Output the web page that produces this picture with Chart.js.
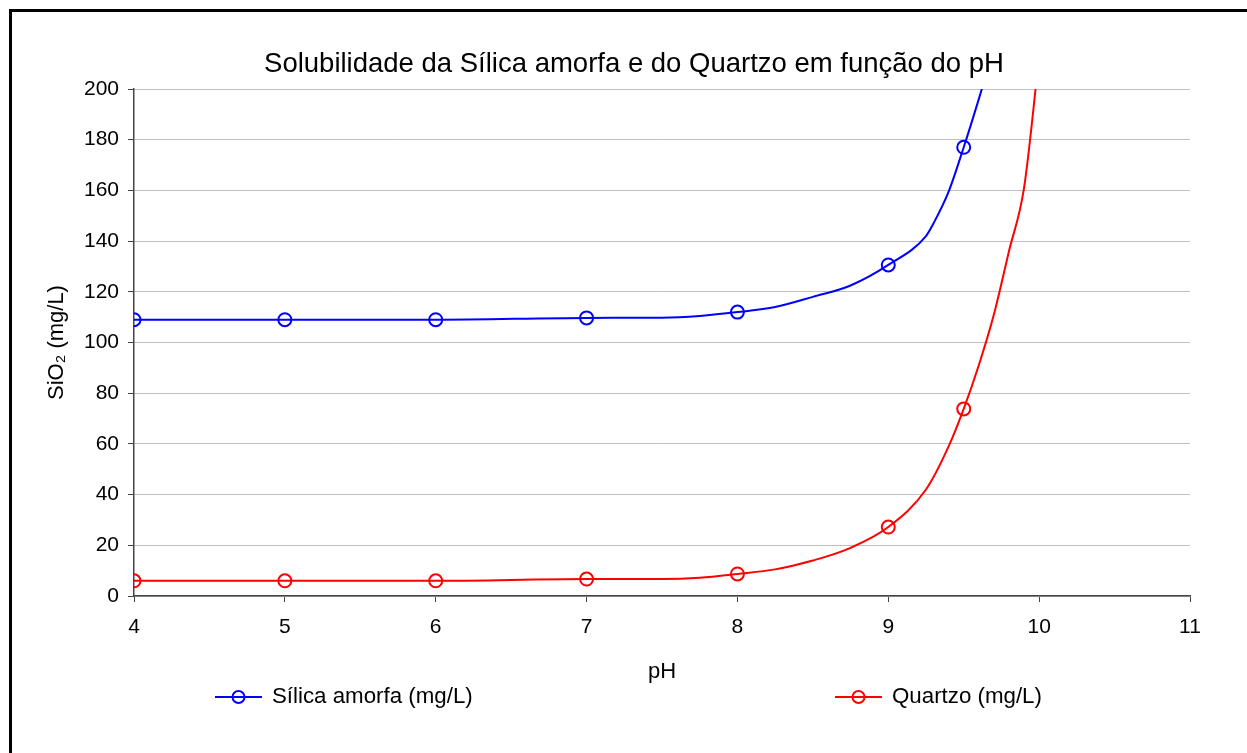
<!DOCTYPE html>
<html>
<head>
<meta charset="utf-8">
<script src="https://cdn.jsdelivr.net/npm/chart.js@4.4.0/dist/chart.umd.min.js"></script>
<style>
    html, body { margin: 0; padding: 0; background: #fff; overflow: hidden; }
    /* moldura preta à volta do gráfico (sai pela direita e por baixo) */
    .frame { position: absolute; left: 9px; top: 9px; width: 1300px; height: 800px; border: 3px solid #000; }
    #wrap { position: absolute; left: 0; top: 0; width: 1247px; height: 753px; }
</style>
</head>
<body>
<div class="frame"></div>
<div id="wrap"><canvas id="chart" width="1247" height="753"></canvas></div>
<script>
// pH dos pontos medidos (com marcador)
const phMarcadores = [4, 5, 6, 7, 8, 9, 9.5];
const silicaMarcadores = [109, 109, 109, 109.7, 112, 130.6, 177];
const quartzoMarcadores = [6, 6, 6, 6.7, 8.7, 27.2, 73.8];

// curvas suavizadas (passam acima de 200 e ficam cortadas no topo)
const phSilica = [4, 5, 6, 7, 7.5, 7.75, 8, 8.25, 8.5, 8.75, 9, 9.25, 9.3, 9.4, 9.5, 9.6, 9.7];
const silicaCurva = [109, 109, 109, 109.7, 109.8, 110.5, 112, 114, 118, 122.5, 130.6, 142, 147, 159.5, 177, 196, 216];
const phQuartzo = [4, 5, 6, 7, 7.5, 7.75, 8, 8.25, 8.5, 8.75, 9, 9.25, 9.4, 9.5, 9.6, 9.7, 9.8, 9.9, 10];
const quartzoCurva = [6, 6, 6, 6.7, 6.7, 7.2, 8.7, 10.5, 14, 19, 27.2, 42, 59, 73.8, 91, 111, 136, 161, 213];

const yTicks = [0, 20, 40, 60, 80, 100, 120, 140, 160, 180, 200];

const TITULO = 'Solubilidade da Sílica amorfa e do Quartzo em função do pH';
const FONT = "'Liberation Sans', Arial, sans-serif";
const AZUL = '#0000ff';
const VERMELHO = '#ff0000';

const pares = (xs, ys) => xs.map((x, i) => ({ x, y: ys[i] }));

// título e legenda ao estilo Excel (linha atravessando o círculo)
const textosExcel = {
    id: 'textosExcel',
    afterDraw(chart) {
        const ctx = chart.ctx;
        ctx.save();
        ctx.fillStyle = '#000';
        ctx.textBaseline = 'middle';
        ctx.textAlign = 'center';
        ctx.font = `27.5px ${FONT}`;
        ctx.fillText(TITULO, 634, 64);

        const y = 697;
        const itens = [
            { texto: 'Sílica amorfa (mg/L)', cor: AZUL, x: 215 },
            { texto: 'Quartzo (mg/L)', cor: VERMELHO, x: 835 }
        ];
        itens.forEach(it => {
            ctx.strokeStyle = it.cor;
            ctx.lineWidth = 2;
            ctx.beginPath();
            ctx.moveTo(it.x, y);
            ctx.lineTo(it.x + 47, y);
            ctx.stroke();
            ctx.beginPath();
            ctx.arc(it.x + 23.5, y, 6, 0, Math.PI * 2);
            ctx.stroke();
            ctx.fillStyle = '#000';
            ctx.font = `22.3px ${FONT}`;
            ctx.textAlign = 'left';
            ctx.fillText(it.texto, it.x + 57, y);
        });
        ctx.restore();
    }
};

new Chart(document.getElementById('chart'), {
    type: 'scatter',
    data: {
        datasets: [
            { label: 'Sílica amorfa (mg/L)', data: pares(phSilica, silicaCurva), showLine: true, borderColor: AZUL, borderWidth: 2, pointRadius: 0, cubicInterpolationMode: 'monotone', order: 2 },
            { label: 'Sílica amorfa (mg/L)', data: pares(phMarcadores, silicaMarcadores), showLine: false, borderColor: AZUL, backgroundColor: 'rgba(0,0,0,0)', pointRadius: 6.5, pointBorderWidth: 2, order: 1 },
            { label: 'Quartzo (mg/L)', data: pares(phQuartzo, quartzoCurva), showLine: true, borderColor: VERMELHO, borderWidth: 2, pointRadius: 0, cubicInterpolationMode: 'monotone', order: 2 },
            { label: 'Quartzo (mg/L)', data: pares(phMarcadores, quartzoMarcadores), showLine: false, borderColor: VERMELHO, backgroundColor: 'rgba(0,0,0,0)', pointRadius: 6.5, pointBorderWidth: 2, order: 1 }
        ]
    },
    options: {
        responsive: false,
        animation: false,
        layout: { padding: { left: 0, right: 57, top: 89, bottom: 0 } },
        plugins: {
            legend: { display: false },
            tooltip: { enabled: false },
            title: { display: false }
        },
        scales: {
            x: {
                type: 'linear', min: 4, max: 11,
                afterFit: s => { s.height = 157; },
                ticks: { stepSize: 1, color: '#000', font: { family: FONT, size: 21 }, padding: 13 },
                grid: { drawOnChartArea: false, drawTicks: true, tickLength: 6, tickColor: '#444' },
                border: { color: '#444', width: 1.5 },
                title: { display: true, text: 'pH', color: '#000', font: { family: FONT, size: 22 }, padding: { bottom: 68 } }
            },
            y: {
                min: 0, max: 200,
                afterFit: s => { s.width = 134; },
                afterBuildTicks: s => { s.ticks = yTicks.map(v => ({ value: v })); },
                ticks: { color: '#000', font: { family: FONT, size: 21 }, padding: 9 },
                grid: { color: '#c0c0c0', lineWidth: 1, drawTicks: true, tickLength: 6, tickColor: '#444' },
                border: { color: '#444', width: 1.5 },
                title: { display: true, text: 'SiO₂ (mg/L)', color: '#000', font: { family: FONT, size: 22 }, padding: { top: 44 } }
            }
        }
    },
    plugins: [textosExcel]
});
</script>
</body>
</html>
